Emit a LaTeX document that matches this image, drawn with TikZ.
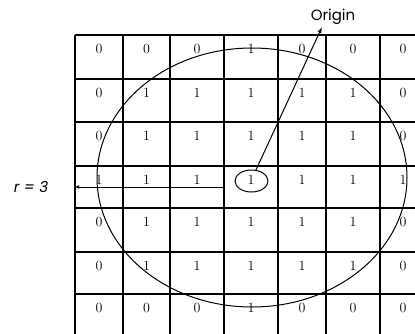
\documentclass[tikz,border=0pt]{standalone}
\usepackage{fontspec}
\newfontfamily\labelfont{Poppins}
\usetikzlibrary{arrows.meta,shapes.geometric}

\tikzset{
  cell/.style={font=\fontsize{14}{14}\selectfont, inner sep=0pt},
  gridline/.style={line width=1.3pt},
  curve/.style={line width=1pt},
  tag/.style={font=\labelfont\fontsize{15}{15}\selectfont, inner sep=0pt},
}

\def\colx{{99,146.5,197,251,302,353,403}}

\begin{document}
\begin{tikzpicture}[x=1pt,y=-1pt]
\useasboundingbox (0,0) rectangle (415,333);
\clip (0,0) rectangle (415,333);
% the grid, running off the page at right and bottom
\foreach \y in {35,79,122,166,208,252,294}
  \draw[gridline] (75,\y) -- (440,\y);
\foreach \x in {75,123,170,224,278,326,380}
  \draw[gridline] (\x,35) -- (\x,345);
% cell values
\foreach \y/\vals [count=\r] in {49/{0,0,0,1,0,0,0}, 93/{0,1,1,1,1,1,0},
    136/{0,1,1,1,1,1,0}, 180/{1,1,1,1,1,1,1}, 222/{0,1,1,1,1,1,0},
    266/{0,1,1,1,1,1,0}, 308/{0,0,0,1,0,0,0}}{
  \foreach \v [count=\c] in \vals {
    \pgfmathsetmacro\xx{\colx[\c-1]}
    \node[cell] (c\r\c) at (\xx,\y) {\v};
  }
}
% circle of radius 3
\draw[curve] (252,177.5) ellipse (155 and 129.5);
\node[draw, ellipse, curve, minimum width=33pt, minimum height=22pt] (mid) at (251.5,181) {};
% labels
\node[tag] (origin) at (333,17) {Origin};
\coordinate (tip) at (322,27);
\draw[curve, -{Latex[length=6pt,width=4.5pt]}] (mid.68) -- (tip);
\node[tag, font=\labelfont\itshape\fontsize{15}{15}\selectfont] (radius) at (31,187) {r = 3};
\coordinate (rfrom) at (224,187);
\coordinate (rto) at (75,187);
\draw[curve, -{Latex[length=4pt,width=4pt]}] (rfrom) -- (rto);
\end{tikzpicture}
\end{document}
